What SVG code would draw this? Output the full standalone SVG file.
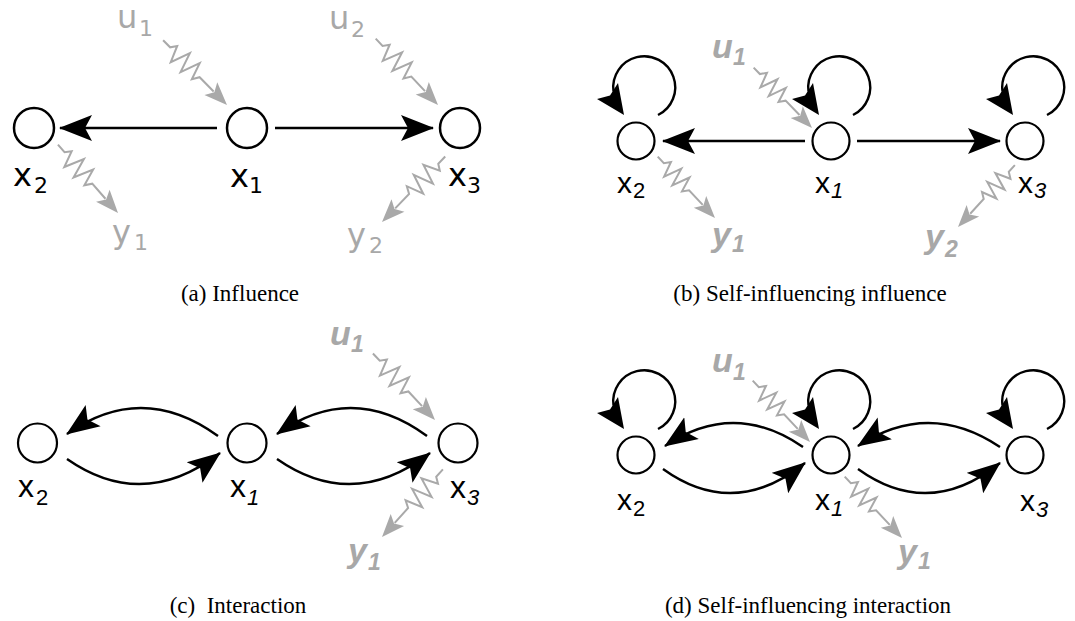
<svg xmlns="http://www.w3.org/2000/svg" xmlns:xlink="http://www.w3.org/1999/xlink" width="1075" height="621" viewBox="0 0 1075 621">
  <style>
    .bg { fill: #ffffff; }
    .node circle { fill: #ffffff; stroke: #000000; stroke-width: 2.2; }
    .na circle { stroke-width: 2.5; }
    .edge { fill: none; stroke: #000000; stroke-width: 2.4; }
    .edgeA { fill: none; stroke: #000000; stroke-width: 2.6; }
    .loopline { fill: none; stroke: #000000; stroke-width: 2.4; }
    .head { fill: #000000; stroke: none; }
    .sq { fill: none; stroke: #a9a9a9; stroke-width: 2; stroke-linejoin: miter; }
    .sqhead { fill: #a9a9a9; stroke: none; }
    .lbA { font-family: "DejaVu Sans", Verdana, sans-serif; font-size: 32px; fill: #000000; }
    .gA { fill: #a8a8a8; }
    .subA { font-size: 22px; }
    .lb { font-family: "Liberation Sans", Arial, sans-serif; font-size: 30px; fill: #000000; }
    .lbC { font-size: 32px; }
    .sub { font-size: 22px; }
    .it { font-style: italic; }
    .gl { font-family: "Liberation Sans", Arial, sans-serif; font-weight: bold; font-style: italic; font-size: 34px; fill: #a8a8a8; }
    .gs { font-size: 23px; }
    .cap { font-family: "Liberation Serif", "Times New Roman", serif; font-size: 23px; fill: #000000; }
  </style>
  <defs>
    <!-- notched black arrowhead, tip at the path end -->
    <marker id="arr" markerUnits="userSpaceOnUse" viewBox="0 0 34 28" markerWidth="34" markerHeight="28" refX="32" refY="14" orient="auto">
      <path class="head" d="M0,1 L33,14 L0,27 L7,14 Z"/>
    </marker>
    <!-- wavy grey signal arrow, tip at origin, pointing +x (long) -->
    <g id="sqA">
      <path class="sq" d="M-91,0 L-81,0 L-77,-6 L-70,10 L-63,-10 L-56,10 L-49,-10 L-43,7 L-39,0 L-19,0"/>
      <polygon class="sqhead" points="0,0 -23,-9 -18,0 -23,9"/>
    </g>
    <!-- wavy grey signal arrow (short) -->
    <g id="sqB">
      <path class="sq" d="M-84,0 L-75,0 L-71,-6 L-65,9 L-59,-9 L-53,9 L-47,-9 L-42,6 L-38,0 L-18,0"/>
      <polygon class="sqhead" points="0,0 -22,-8.5 -17,0 -22,8.5"/>
    </g>
    <!-- self loop drawn relative to the node centre -->
    <g id="loop">
      <path class="loopline" d="M22,-26 A31,31 0 1 0 -22.5,-49.6"/>
      <polygon class="head" points="-12,-26 -39,-42 -26,-45.5 -18,-58"/>
    </g>
  </defs>

  <rect class="bg" x="0" y="0" width="1075" height="621"/>

  <!-- ============ connectors ============ -->
  <g id="connectors">
    <!-- (a) influence -->
    <path class="edgeA" d="M217,128 L60,128" marker-end="url(#arr)"/>
    <path class="edgeA" d="M275,128 L433,128" marker-end="url(#arr)"/>
    <use xlink:href="#sqA" href="#sqA" transform="translate(227,105) rotate(45.4)"/>
    <use xlink:href="#sqA" href="#sqA" transform="translate(118,213) rotate(48.7)"/>
    <use xlink:href="#sqA" href="#sqA" transform="translate(438,105) rotate(46.8)"/>
    <use xlink:href="#sqA" href="#sqA" transform="translate(382,222) rotate(134)"/>

    <!-- (b) self-influencing influence -->
    <path class="edge" d="M805,141 L663,141" marker-end="url(#arr)"/>
    <path class="edge" d="M857,141 L1000,141" marker-end="url(#arr)"/>
    <use xlink:href="#loop" href="#loop" transform="translate(636,141)"/>
    <use xlink:href="#loop" href="#loop" transform="translate(831,141)"/>
    <use xlink:href="#loop" href="#loop" transform="translate(1025,141)"/>
    <use xlink:href="#sqB" href="#sqB" transform="translate(812,128) rotate(46)"/>
    <use xlink:href="#sqB" href="#sqB" transform="translate(715,218) rotate(47)"/>
    <use xlink:href="#sqB" href="#sqB" transform="translate(958,227) rotate(132.6)"/>

    <!-- (c) interaction -->
    <path class="edge" d="M218,436 Q142,381 67,434" marker-end="url(#arr)"/>
    <path class="edge" d="M67,459 Q143,512 220,453" marker-end="url(#arr)"/>
    <path class="edge" d="M427,436 Q352,381 277,434" marker-end="url(#arr)"/>
    <path class="edge" d="M277,459 Q353,512 430,453" marker-end="url(#arr)"/>
    <use xlink:href="#sqA" href="#sqA" transform="translate(435,420) rotate(47)"/>
    <use xlink:href="#sqA" href="#sqA" transform="translate(382,537) rotate(132)"/>

    <!-- (d) self-influencing interaction -->
    <path class="edge" d="M803,447 Q734,399.5 665,446" marker-end="url(#arr)"/>
    <path class="edge" d="M663,469 Q734,520 805,463" marker-end="url(#arr)"/>
    <path class="edge" d="M1000,447 Q929,399.5 858,446" marker-end="url(#arr)"/>
    <path class="edge" d="M858,469 Q929,520 1000,463" marker-end="url(#arr)"/>
    <use xlink:href="#loop" href="#loop" transform="translate(636,455)"/>
    <use xlink:href="#loop" href="#loop" transform="translate(831,455)"/>
    <use xlink:href="#loop" href="#loop" transform="translate(1025,455)"/>
    <use xlink:href="#sqB" href="#sqB" transform="translate(810,442) rotate(47)"/>
    <use xlink:href="#sqB" href="#sqB" transform="translate(902,538) rotate(47)"/>
  </g>

  <!-- ============ (a) Influence ============ -->
  <g id="a-x2" class="node na">
    <circle cx="34" cy="128" r="20"/>
    <text class="lbA" x="13" y="186">x<tspan class="subA" x="34" y="193">2</tspan></text>
  </g>
  <g id="a-x1" class="node na">
    <circle cx="247" cy="128" r="20"/>
    <text class="lbA" x="230" y="187">x<tspan class="subA" x="249" y="193">1</tspan></text>
  </g>
  <g id="a-x3" class="node na">
    <circle cx="460" cy="128" r="20"/>
    <text class="lbA" x="448" y="186">x<tspan class="subA" x="467" y="193">3</tspan></text>
  </g>
  <g id="a-u1"><text class="lbA gA" x="117" y="28">u<tspan class="subA" x="139" y="36">1</tspan></text></g>
  <g id="a-u2"><text class="lbA gA" x="329" y="29">u<tspan class="subA" x="351" y="37">2</tspan></text></g>
  <g id="a-y1"><text class="lbA gA" x="112" y="243">y<tspan class="subA" x="134" y="250">1</tspan></text></g>
  <g id="a-y2"><text class="lbA gA" x="347" y="246">y<tspan class="subA" x="369" y="253">2</tspan></text></g>

  <!-- ============ (b) Self-influencing influence ============ -->
  <g id="b-x2" class="node">
    <circle cx="636" cy="141" r="18.5"/>
    <text class="lb" x="617" y="193">x<tspan class="sub" x="633" y="198">2</tspan></text>
  </g>
  <g id="b-x1" class="node">
    <circle cx="831" cy="141" r="18.5"/>
    <text class="lb" x="815" y="193">x<tspan class="sub it" x="831" y="198">1</tspan></text>
  </g>
  <g id="b-x3" class="node">
    <circle cx="1025" cy="141" r="18.5"/>
    <text class="lb" x="1018" y="193">x<tspan class="sub it" x="1034" y="198">3</tspan></text>
  </g>
  <g id="b-u1"><text class="gl" x="712" y="58">u<tspan class="gs" x="733" y="65">1</tspan></text></g>
  <g id="b-y1"><text class="gl" x="712" y="246">y<tspan class="gs" x="732" y="252">1</tspan></text></g>
  <g id="b-y2"><text class="gl" x="925" y="248">y<tspan class="gs" x="945" y="257">2</tspan></text></g>

  <!-- ============ (c) Interaction ============ -->
  <g id="c-x2" class="node">
    <circle cx="37.5" cy="443" r="19.5"/>
    <text class="lb lbC" x="18" y="497">x<tspan class="sub" x="36" y="505">2</tspan></text>
  </g>
  <g id="c-x1" class="node">
    <circle cx="247" cy="443" r="19.5"/>
    <text class="lb lbC" x="230" y="497">x<tspan class="sub it" x="247" y="505">1</tspan></text>
  </g>
  <g id="c-x3" class="node">
    <circle cx="458" cy="443" r="19.5"/>
    <text class="lb lbC" x="450" y="498">x<tspan class="sub it" x="467" y="505">3</tspan></text>
  </g>
  <g id="c-u1"><text class="gl" x="330" y="345">u<tspan class="gs" x="351" y="352">1</tspan></text></g>
  <g id="c-y1"><text class="gl" x="348" y="562">y<tspan class="gs" x="368" y="570">1</tspan></text></g>

  <!-- ============ (d) Self-influencing interaction ============ -->
  <g id="d-x2" class="node">
    <circle cx="636" cy="455" r="18.5"/>
    <text class="lb" x="617" y="510">x<tspan class="sub" x="633" y="516">2</tspan></text>
  </g>
  <g id="d-x1" class="node">
    <circle cx="831" cy="455" r="18.5"/>
    <text class="lb" x="815" y="510">x<tspan class="sub it" x="831" y="516">1</tspan></text>
  </g>
  <g id="d-x3" class="node">
    <circle cx="1025" cy="455" r="18.5"/>
    <text class="lb" x="1020" y="511">x<tspan class="sub it" x="1036" y="517">3</tspan></text>
  </g>
  <g id="d-u1"><text class="gl" x="712" y="372">u<tspan class="gs" x="733" y="380">1</tspan></text></g>
  <g id="d-y1"><text class="gl" x="898" y="563">y<tspan class="gs" x="918" y="569">1</tspan></text></g>

  <!-- ============ captions ============ -->
  <g id="captions">
    <text class="cap" x="240" y="301" text-anchor="middle">(a) Influence</text>
    <text class="cap" x="810" y="301" text-anchor="middle">(b) Self-influencing influence</text>
    <text class="cap" x="238" y="613" text-anchor="middle" xml:space="preserve">(c)  Interaction</text>
    <text class="cap" x="808" y="613" text-anchor="middle">(d) Self-influencing interaction</text>
  </g>
</svg>
